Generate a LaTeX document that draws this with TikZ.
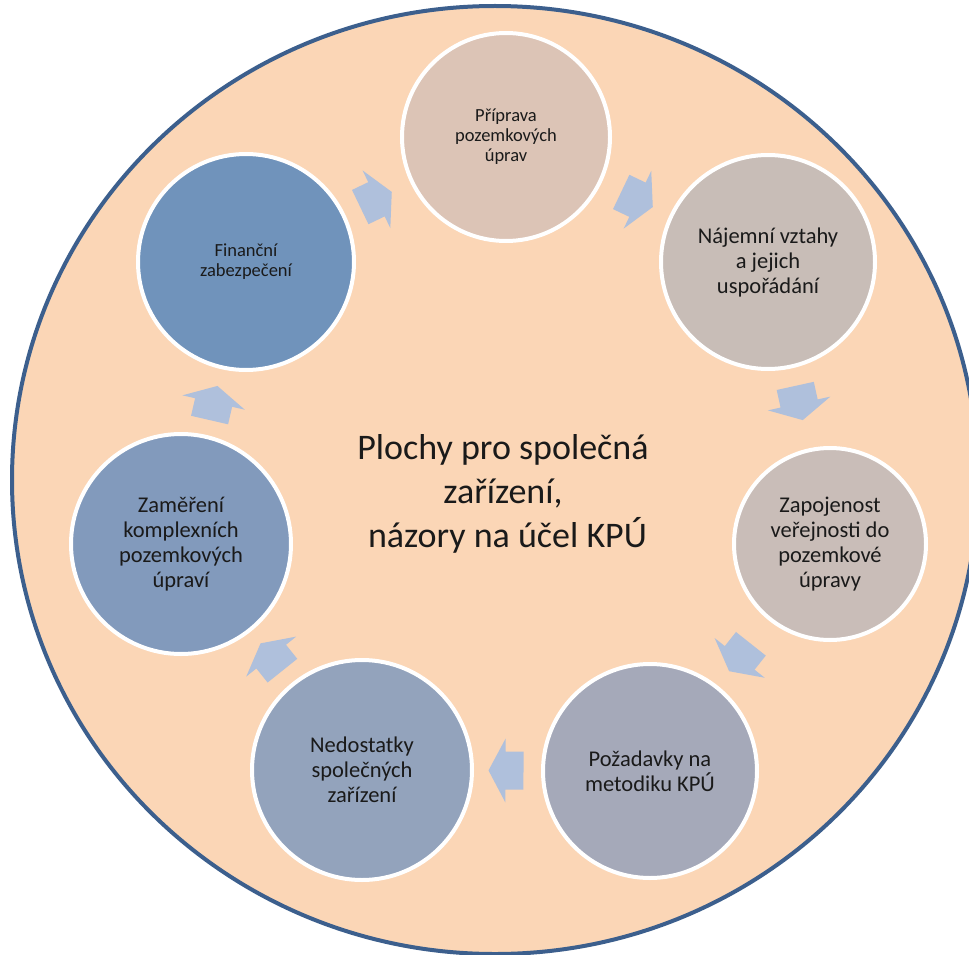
\documentclass[tikz,border=0pt]{standalone}
\usepackage{fontspec}
\setmainfont{Carlito}
\usetikzlibrary{calc}
\definecolor{bigfill}{HTML}{FBD6B6}
\definecolor{bigborder}{HTML}{3C5F8D}
\definecolor{cPrip}{HTML}{DCC4B6}
\definecolor{cNaj}{HTML}{C8BDB7}
\definecolor{cZap}{HTML}{C9BDB8}
\definecolor{cPoz}{HTML}{A5A9B9}
\definecolor{cNed}{HTML}{93A3BC}
\definecolor{cZam}{HTML}{829ABC}
\definecolor{cFin}{HTML}{7093BB}
\definecolor{arrowc}{HTML}{AFC0DC}
\definecolor{txt}{HTML}{1A1A1A}
\tikzset{
  stage/.style={circle, draw=white, line width=4pt, inner sep=0pt, align=center, text=txt},
  bigtext/.style={font=\fontsize{22.5}{25}\selectfont},
  smalltext/.style={font=\fontsize{18.5}{20}\selectfont},
  cycarrowfill/.style={fill=arrowc, draw=none}
}
\newcommand\cycarrow[2]{%
  \path let \p1=($(#2)-(#1)$), \n1={atan2(\y1,\x1)} in \pgfextra{\xdef\cycang{\n1}};
  \fill[cycarrowfill, shift={($(#1)!0.5!(#2)$)}, rotate=\cycang]
    (-17.5,-19) -- (0.5,-19) -- (0.5,-32) -- (17.5,0) -- (0.5,32) -- (0.5,19) -- (-17.5,19) -- cycle;
}
\begin{document}
\begin{tikzpicture}[x=1pt,y=-1pt]
\useasboundingbox (0,0) rectangle (969,955);
\clip (0,0) rectangle (969,955);
\fill[white] (0,0) rectangle (969,955);
\draw[fill=bigfill, draw=bigborder, line width=4pt] (495,480) ellipse [x radius=483, y radius=474];

\node[font=\fontsize{36}{44}\selectfont, align=center, text=txt] (centre) at (503,494)
  {Plochy pro společná\\zařízení,\\\hspace{0.25em}názory na účel KPÚ};

\node[stage, smalltext, fill=cPrip, minimum size=208pt] (prip) at (506,137) {Příprava\\pozemkových\\úprav};
\node[stage, bigtext, fill=cNaj, minimum size=214pt] (naj) at (768,262) {Nájemní vztahy\\a jejich\\uspořádání};
\node[stage, bigtext, fill=cZap, minimum size=192pt] (zap) at (830,544) {Zapojenost\\veřejnosti do\\pozemkové\\úpravy};
\node[stage, bigtext, fill=cPoz, minimum size=214pt] (poz) at (650,771) {Požadavky na\\metodiku KPÚ};
\node[stage, bigtext, fill=cNed, minimum size=220pt] (ned) at (362,770) {Nedostatky\\společných\\zařízení};
\node[stage, bigtext, fill=cZam, minimum size=220pt] (zam) at (181,544) {Zaměření\\komplexních\\pozemkových\\úpraví};
\node[stage, smalltext, fill=cFin, minimum size=216pt] (fin) at (246,262) {Finanční\\zabezpečení};

\cycarrow{fin}{prip}
\cycarrow{prip}{naj}
\cycarrow{naj}{zap}
\cycarrow{zap}{poz}
\cycarrow{poz}{ned}
\cycarrow{ned}{zam}
\cycarrow{zam}{fin}
\end{tikzpicture}
\end{document}
